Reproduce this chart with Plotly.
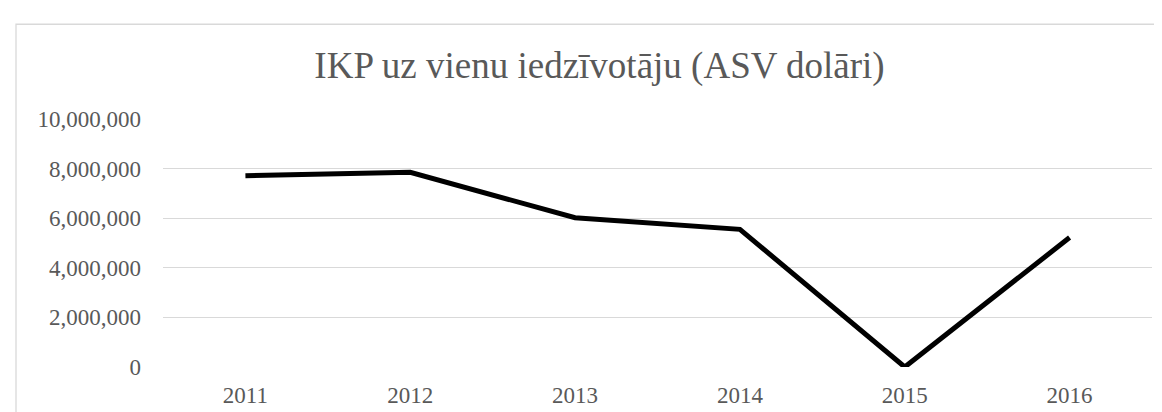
import plotly.graph_objects as go

years = ["2011", "2012", "2013", "2014", "2015", "2016"]
gdp_per_capita = [7710000, 7850000, 6020000, 5550000, 0, 5220000]
y_ticks = [0, 2000000, 4000000, 6000000, 8000000, 10000000]
y_tick_labels = ["0", "2,000,000", "4,000,000", "6,000,000", "8,000,000", "10,000,000"]
title_text = "IKP uz vienu iedzīvotāju (ASV dolāri)"

W, H = 1162, 412
ml, mr, mt, mb = 155, 18, 111, 49
pw, ph = W - ml - mr, H - mt - mb

fig = go.Figure()
fig.add_trace(go.Scatter(
    x=years, y=gdp_per_capita, mode="lines",
    line=dict(color="#000000", width=5),
    hoverinfo="x+y", showlegend=False,
))

font_fam = "Liberation Serif, Times New Roman, serif"
fig.update_layout(
    width=W, height=H,
    margin=dict(l=ml, r=mr, t=mt, b=mb),
    paper_bgcolor="white", plot_bgcolor="white",
    font=dict(family=font_fam, color="#595959", size=23),
    title=dict(text=title_text, x=591.5 / W, xanchor="center", y=1 - 57 / H, yanchor="middle",
               font=dict(family=font_fam, size=37, color="#595959")),
    xaxis=dict(type="category", showgrid=False, zeroline=False, showline=False,
               ticks="", tickfont=dict(size=23, color="#595959"), ticklabelstandoff=12,
               range=[-0.5, 5.5]),
    yaxis=dict(range=[0, 10000000], tickvals=y_ticks, ticktext=y_tick_labels,
               showgrid=True, gridcolor="#d9d9d9", gridwidth=1.3, zeroline=False,
               showline=False, ticks="", tickfont=dict(size=23, color="#595959"),
               ticklabelstandoff=21),
    shapes=[dict(type="rect", xref="paper", yref="paper",
                 x0=(8 - ml) / pw, x1=1.2, y0=-0.5, y1=(H - mb - 14.7) / ph,
                 line=dict(color="#d9d9d9", width=1.3), fillcolor="rgba(0,0,0,0)",
                 layer="below")],
)

fig.write_html("out.html")
